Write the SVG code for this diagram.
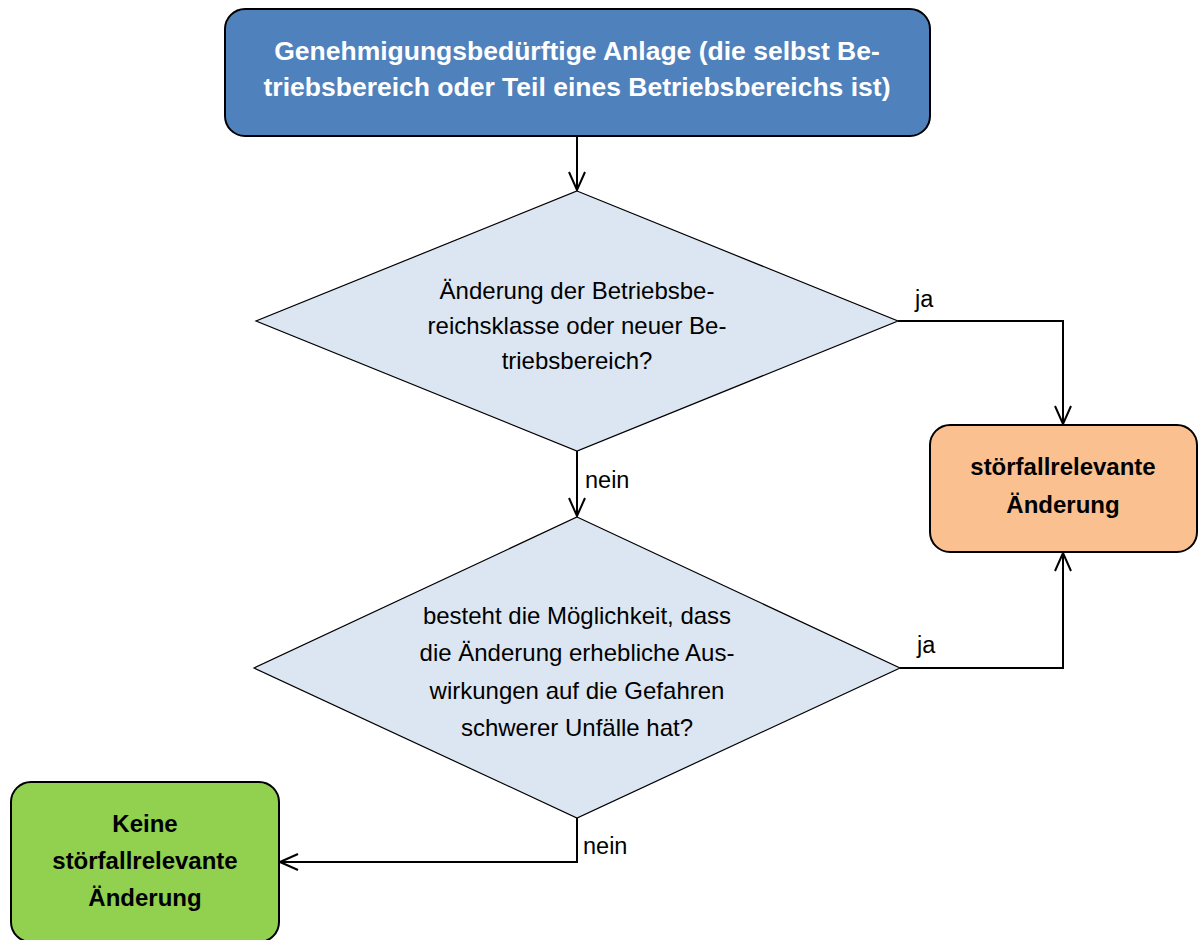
<svg xmlns="http://www.w3.org/2000/svg" width="1202" height="940" viewBox="0 0 1202 940">
<defs>
<style>
.t{font-family:"Liberation Sans",Arial,sans-serif;font-size:24px;fill:#000;text-anchor:middle}
.b{font-weight:bold}
.w{fill:#fff;font-size:26.5px}
.box{stroke:#000;stroke-width:2}
.dia{fill:#dce6f2;stroke:#000;stroke-width:1.2}
.c{fill:none;stroke:#000;stroke-width:2}
.lbl{font-family:"Liberation Sans",Arial,sans-serif;font-size:23.5px;fill:#000}
</style>
<marker id="a" viewBox="0 0 20 20" refX="19" refY="10" markerWidth="20" markerHeight="20" markerUnits="userSpaceOnUse" orient="auto">
<path d="M1,2 L19,10 L1,18" fill="none" stroke="#000" stroke-width="2"/>
</marker>
</defs>
<g id="start">
<rect class="box" x="225" y="9" width="705" height="127" rx="20" fill="#4f81bd"/>
<text class="t b w" x="577" y="59.5">Genehmigungsbedürftige Anlage (die selbst Be-</text>
<text class="t b w" x="577" y="95.5">triebsbereich oder Teil eines Betriebsbereichs ist)</text>
</g>
<g id="d1">
<polygon class="dia" points="577,191 898,321 577,451 256,321"/>
<text class="t" x="577" y="298.5">Änderung der Betriebsbe-</text>
<text class="t" x="577" y="333.5">reichsklasse oder neuer Be-</text>
<text class="t" x="577" y="368.5">triebsbereich?</text>
</g>
<g id="yes">
<rect class="box" x="930" y="425" width="267" height="127" rx="20" fill="#fac090"/>
<text class="t b" x="1063" y="474.5">störfallrelevante</text>
<text class="t b" x="1063" y="512.5">Änderung</text>
</g>
<g id="d2">
<polygon class="dia" points="577,517 900,668 577,818 254,668"/>
<text class="t" x="577" y="623.5">besteht die Möglichkeit, dass</text>
<text class="t" x="577" y="660.5">die Änderung erhebliche Aus-</text>
<text class="t" x="577" y="698.5">wirkungen auf die Gefahren</text>
<text class="t" x="577" y="735.5">schwerer Unfälle hat?</text>
</g>
<g id="no">
<rect class="box" x="11" y="782" width="268" height="160" rx="20" fill="#92d050"/>
<text class="t b" x="145" y="831.5">Keine</text>
<text class="t b" x="145" y="868.5">störfallrelevante</text>
<text class="t b" x="145" y="905.5">Änderung</text>
</g>
<g id="connectors">
<path class="c" d="M577,136 V190" marker-end="url(#a)"/>
<path class="c" d="M898,321 H1063 V424" marker-end="url(#a)"/>
<path class="c" d="M577,451 V516" marker-end="url(#a)"/>
<path class="c" d="M900,668 H1063 V553" marker-end="url(#a)"/>
<path class="c" d="M577,818 V862 H280" marker-end="url(#a)"/>
<text class="lbl" x="915" y="307">ja</text>
<text class="lbl" x="585" y="488">nein</text>
<text class="lbl" x="917" y="653">ja</text>
<text class="lbl" x="583" y="854">nein</text>
</g>
</svg>
